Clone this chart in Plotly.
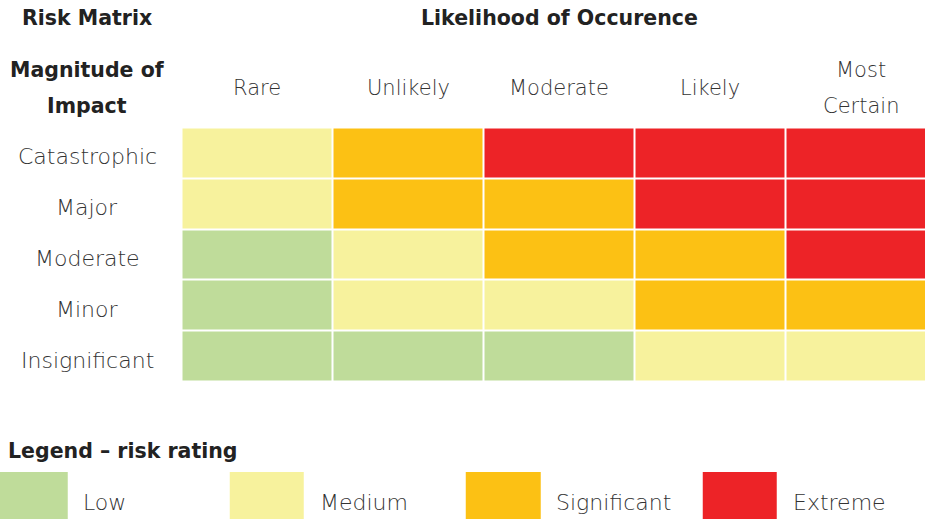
import plotly.graph_objects as go

# ---- data ----
likelihood = ["Rare", "Unlikely", "Moderate", "Likely", "Most<br>Certain"]
impact = ["Catastrophic", "Major", "Moderate", "Minor", "Insignificant"]
ratings = ["Low", "Medium", "Significant", "Extreme"]
rating_colors = ["#bfdc9a", "#f7f29d", "#fcc114", "#ed2327"]
# rating index (1=Low .. 4=Extreme), rows top→bottom as in impact, cols as in likelihood
matrix = [
    [2, 3, 4, 4, 4],
    [2, 3, 3, 4, 4],
    [1, 2, 3, 3, 4],
    [1, 2, 2, 3, 3],
    [1, 1, 1, 2, 2],
]

W, H = 925, 519
TXT = "#333333"
BOLD = "#222222"
FONT = "DejaVu Sans"

# discrete colour scale
cs = []
n = len(rating_colors)
for i, c in enumerate(rating_colors):
    cs.append([i / n, c])
    cs.append([(i + 1) / n, c])

fig = go.Figure()
fig.add_trace(go.Heatmap(
    z=matrix,
    x=list(range(len(likelihood))),
    y=list(range(len(impact))),
    colorscale=cs, zmin=0.5, zmax=n + 0.5,
    showscale=False, xgap=2, ygap=2, hoverinfo="skip",
    xaxis="x", yaxis="y",
))

# legend swatches as a one-row heatmap
fig.add_trace(go.Heatmap(
    z=[list(range(1, n + 1))],
    x=list(range(n)), y=[0],
    colorscale=cs, zmin=0.5, zmax=n + 0.5,
    showscale=False, xgap=162, ygap=0, hoverinfo="skip",
    xaxis="x2", yaxis="y2",
))

cell_px = 151.0
x_left = 181.5
xr_max = -0.5 + (W - x_left) / cell_px
leg_step = 236.5
leg_x0 = -30.0 / leg_step

fig.update_layout(
    width=W, height=H,
    margin=dict(l=0, r=0, t=0, b=0),
    paper_bgcolor="white", plot_bgcolor="white",
    showlegend=False,
    xaxis=dict(domain=[x_left / W, 1], range=[-0.5, xr_max], visible=False, fixedrange=True),
    yaxis=dict(domain=[1 - 381.5 / H, 1 - 127.5 / H], range=[len(impact) - 0.5, -0.5],
               visible=False, fixedrange=True),
    xaxis2=dict(domain=[0, 1], range=[leg_x0, leg_x0 + W / leg_step], visible=False,
                anchor="y2", fixedrange=True),
    yaxis2=dict(domain=[0, 1 - 472 / H], range=[-0.5, 0.5], visible=False,
                anchor="x2", fixedrange=True),
)

ann = []
reg = dict(family=FONT, size=22, color=TXT, weight=300)
hdr = dict(family=FONT, size=21, color=TXT, weight=300)
bold = dict(family=FONT, size=20.5, color=BOLD, weight="bold")


def py(px):
    return 1 - px / H


# column labels
for i, lab in enumerate(likelihood):
    lines = lab.split("<br>")
    if len(lines) == 1:
        ys = [88]
    else:
        ys = [70, 106]
    for ln, yy in zip(lines, ys):
        ann.append(dict(x=i, xref="x", y=py(yy), yref="paper", text=ln, showarrow=False,
                        xanchor="center", yanchor="middle", font=hdr))

# row labels
for j, lab in enumerate(impact):
    ann.append(dict(x=87 / W, xref="paper", y=j, yref="y", yshift=-4, text=lab,
                    showarrow=False, xanchor="center", yanchor="middle", font=reg))

# titles
ann.append(dict(x=87 / W, xref="paper", y=py(18), yref="paper", text="Risk Matrix",
                showarrow=False, xanchor="center", yanchor="middle", font=bold))
ann.append(dict(x=2, xref="x", y=py(18), yref="paper", text="Likelihood of Occurence",
                showarrow=False, xanchor="center", yanchor="middle", font=bold))
ann.append(dict(x=87 / W, xref="paper", y=py(70), yref="paper", text="Magnitude of",
                showarrow=False, xanchor="center", yanchor="middle", font=bold))
ann.append(dict(x=87 / W, xref="paper", y=py(106), yref="paper", text="Impact",
                showarrow=False, xanchor="center", yanchor="middle", font=bold))
ann.append(dict(x=6 / W, xref="paper", y=py(451), yref="paper", text="Legend – risk rating",
                showarrow=False, xanchor="left", yanchor="middle", font=bold))

# legend labels
for i, lab in enumerate(ratings):
    ann.append(dict(x=i + (81 - 30) / leg_step, xref="x2", y=py(502), yref="paper", text=lab,
                    showarrow=False, xanchor="left", yanchor="middle", font=reg))

fig.update_layout(annotations=ann)
fig.write_html(
    "out.html",
    config={"displayModeBar": False},
    post_script="document.body.style.margin='0';document.body.style.overflow='hidden';",
)
